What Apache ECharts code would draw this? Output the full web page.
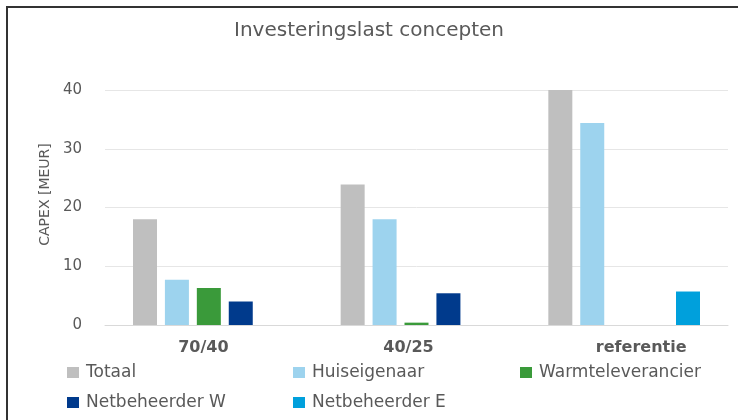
<!DOCTYPE html>
<html>
<head>
<meta charset="utf-8">
<script src="https://cdn.jsdelivr.net/npm/echarts@6/dist/echarts.min.js"></script>
<style>
	html, body { margin: 0; padding: 0; background: #fff; }
	#frame { position: absolute; left: 6px; top: 6px; width: 732px; height: 414px; border-left: 2px solid #333; border-top: 2px solid #333; }
	#chart { position: absolute; left: 0; top: 0; width: 738px; height: 420px; }
</style>
</head>
<body>
<div id="frame"></div>
<div id="chart"></div>
<script>
// concepten en CAPEX per partij (MEUR)
var categories = ["70/40", "40/25", "referentie"];
var seriesNames = ["Totaal", "Huiseigenaar", "Warmteleverancier", "Netbeheerder W", "Netbeheerder E"];
var totaal = [18.0, 23.9, 40.0];
var huiseigenaar = [7.7, 18.0, 34.4];
var warmteleverancier = [6.3, 0.4, 0];
var netbeheerderW = [4.0, 5.4, 0];
var netbeheerderE = [0, 0, 5.7];
var colors = ["#BFBFBF", "#9DD3EE", "#3A9A3A", "#003A8C", "#00A0DC"];

var values = [totaal, huiseigenaar, warmteleverancier, netbeheerderW, netbeheerderE];
var txt = "#595959";
var font = "'DejaVu Sans', sans-serif";

var chart = echarts.init(document.getElementById("chart"), null, { renderer: "canvas" });

function legendBlock(names, left) {
	return {
		orient: "vertical",
		left: left,
		top: 364,
		padding: 0,
		itemWidth: 12,
		itemHeight: 11,
		itemGap: 13,
		icon: "rect",
		data: names,
		textStyle: { color: txt, fontSize: 17, lineHeight: 17, fontFamily: font, padding: [0, 0, 0, 2] },
		selectedMode: false
	};
}

// kleine verschuiving van de labels zoals in het origineel
var labelShift = { "70/40": [0, 11, 0, 0], "40/25": [0, 16, 0, 0], "referentie": [0, 0, 0, 34] };
var xData = categories.map(function(c) {
	return { value: c, textStyle: { padding: labelShift[c] } };
});

var series = [];
for (var i = 0; i < seriesNames.length; i++) {
	series.push({
		name: seriesNames[i],
		type: "bar",
		data: values[i],
		barWidth: 24,
		barGap: "33%",
		itemStyle: { color: colors[i] }
	});
}

chart.setOption({
	animation: false,
	color: colors,
	title: {
		text: "Investeringslast concepten",
		left: "center",
		top: 16,
		textStyle: { color: txt, fontSize: 20, fontWeight: "normal", fontFamily: font }
	},
	legend: [
		legendBlock(["Totaal", "Netbeheerder W"], 67),
		legendBlock(["Huiseigenaar", "Netbeheerder E"], 293),
		legendBlock(["Warmteleverancier"], 520)
	],
	grid: { left: 105, right: 10, top: 90, bottom: 95 },
	xAxis: {
		type: "category",
		data: xData,
		axisLine: { lineStyle: { color: "#D9D9D9" } },
		axisTick: { lineStyle: { color: "#D9D9D9" }, length: 5 },
		axisLabel: { color: txt, fontSize: 16, fontWeight: "bold", fontFamily: font, margin: 15 }
	},
	yAxis: {
		type: "value",
		min: 0,
		max: 40,
		interval: 10,
		name: "CAPEX [MEUR]",
		nameLocation: "middle",
		nameGap: 52,
		nameTextStyle: { color: txt, fontSize: 14, fontFamily: font, padding: [0, 0, 0, 26] },
		axisLine: { show: false },
		axisTick: { show: false },
		splitLine: { lineStyle: { color: "#E6E6E6" } },
		axisLabel: { color: txt, fontSize: 15, fontFamily: font, margin: 23 }
	},
	series: series
});
</script>
</body>
</html>
